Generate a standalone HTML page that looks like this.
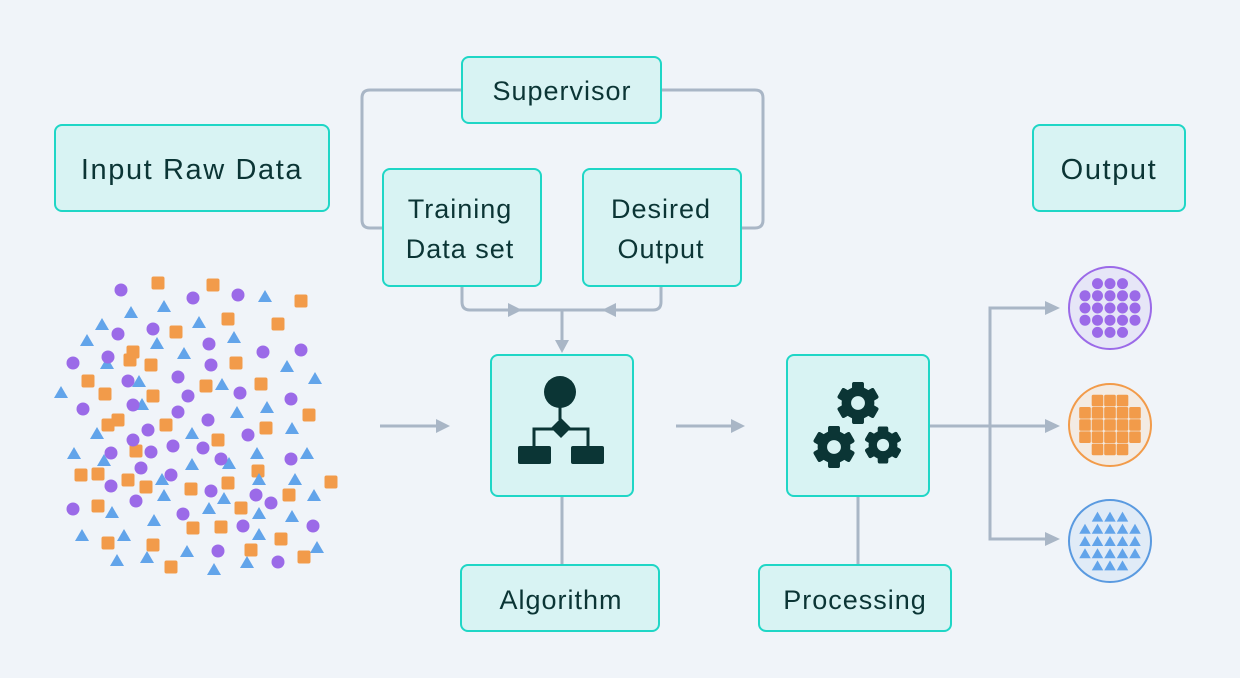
<!DOCTYPE html>
<html><head><meta charset="utf-8"><style>
html,body{margin:0;padding:0;background:#f0f4f9;}
svg{display:block}
text{font-family:"Liberation Sans",sans-serif;fill:#0b3535;}
</style></head><body>
<svg id="s" width="1240" height="678" viewBox="0 0 1240 678" xmlns="http://www.w3.org/2000/svg">
<rect width="1240" height="678" fill="#f0f4f9"/>
<g fill="none" stroke="#a9b6c6" stroke-width="3">
<path d="M462,90 H370 Q362,90 362,98 V220 Q362,228 370,228 H383"/>
<path d="M661,90 H755 Q763,90 763,98 V220 Q763,228 755,228 H741"/>
<path d="M462,286 V302 Q462,310 470,310 H653 Q661,310 661,302 V286"/>
<path d="M562,310 V340"/>
<path d="M380,426 H440"/>
<path d="M676,426 H735"/>
<path d="M562,496 V565"/>
<path d="M858,496 V565"/>
<path d="M929,426 H1048"/>
<path d="M1048,308 H990 V539 H1048"/>
</g>
<g fill="#a9b6c6">
<path d="M508,303 L522,310 L508,317 Z"/>
<path d="M616,303 L602,310 L616,317 Z"/>
<path d="M555,340 L569,340 L562,353 Z"/>
<path d="M436,419 L450,426 L436,433 Z"/>
<path d="M731,419 L745,426 L731,433 Z"/>
<path d="M1045,301 L1060,308 L1045,315 Z"/>
<path d="M1045,419 L1060,426 L1045,433 Z"/>
<path d="M1045,532 L1060,539 L1045,546 Z"/>
</g>
<g fill="#d8f3f3" stroke="#1fd6c6" stroke-width="2">
<rect x="55" y="125" width="274" height="86" rx="7"/>
<rect x="462" y="57" width="199" height="66" rx="7"/>
<rect x="383" y="169" width="158" height="117" rx="7"/>
<rect x="583" y="169" width="158" height="117" rx="7"/>
<rect x="1033" y="125" width="152" height="86" rx="7"/>
<rect x="491" y="355" width="142" height="141" rx="7"/>
<rect x="787" y="355" width="142" height="141" rx="7"/>
<rect x="461" y="565" width="198" height="66" rx="7"/>
<rect x="759" y="565" width="192" height="66" rx="7"/>
</g>
<g text-anchor="middle" font-size="27" letter-spacing="1">
<text x="192" y="179" font-size="29" letter-spacing="1.6">Input Raw Data</text>
<text x="562" y="100">Supervisor</text>
<text x="460" y="218">Training</text>
<text x="460" y="258">Data set</text>
<text x="661" y="218">Desired</text>
<text x="661" y="258">Output</text>
<text x="1109" y="179" font-size="29" letter-spacing="1.6">Output</text>
<text x="561" y="609">Algorithm</text>
<text x="855" y="609">Processing</text>
</g>
<g fill="#0b3535" stroke="#0b3535">
<circle cx="560" cy="392" r="16" stroke="none"/>
<path d="M560,406 V420" stroke-width="3"/>
<path d="M561,418 L571,428 L561,438 L551,428 Z" stroke="none"/>
<path d="M534,447 V429 H588 V447" fill="none" stroke-width="3"/>
<rect x="518" y="446" width="33" height="18" rx="2" stroke="none"/>
<rect x="571" y="446" width="33" height="18" rx="2" stroke="none"/>
</g>
<g id="gears"></g>
<circle cx="1110" cy="308" r="41" fill="#e6e6f7" stroke="#9b6ae8" stroke-width="2"/>
<circle cx="1110" cy="425" r="41" fill="#f3ebe3" stroke="#f29b4a" stroke-width="2"/>
<circle cx="1110" cy="541" r="41" fill="#e0ebf7" stroke="#5a9ae0" stroke-width="2"/>
<g id="out"></g>
<g id="sc"></g>
</svg>
<script>
var NS="http://www.w3.org/2000/svg";
function el(p,t,a){var e=document.createElementNS(NS,t);for(var k in a)e.setAttribute(k,a[k]);p.appendChild(e);return e;}
var sc=document.getElementById('sc');
var C=[[121,290],[193,298],[238,295],[118,334],[153,329],[209,344],[263,352],[301,350],[73,363],[108,357],[211,365],[128,381],[178,377],[240,393],[188,396],[291,399],[83,409],[133,405],[178,412],[208,420],[148,430],[248,435],[133,440],[111,453],[151,452],[173,446],[203,448],[221,459],[291,459],[141,468],[171,475],[111,486],[211,491],[256,495],[271,503],[136,501],[73,509],[183,514],[243,526],[313,526],[218,551],[278,562]];
var S=[[158,283],[213,285],[301,301],[228,319],[278,324],[176,332],[133,352],[130,360],[151,365],[236,363],[88,381],[206,386],[261,384],[105,394],[153,396],[309,415],[118,420],[108,425],[166,425],[266,428],[218,440],[136,451],[258,471],[81,475],[98,474],[128,480],[146,487],[191,489],[228,483],[331,482],[289,495],[98,506],[241,508],[193,528],[221,527],[281,539],[108,543],[153,545],[251,550],[304,557],[171,567]];
var T=[[131,312],[164,306],[265,296],[102,324],[199,322],[87,340],[157,343],[234,337],[184,353],[107,363],[287,366],[139,381],[222,384],[315,378],[61,392],[142,404],[237,412],[267,407],[97,433],[192,433],[292,428],[74,453],[104,460],[257,453],[307,453],[192,464],[229,463],[162,479],[259,479],[295,479],[164,495],[224,498],[314,495],[209,508],[112,512],[259,513],[292,516],[154,520],[82,535],[124,535],[259,534],[187,551],[317,547],[117,560],[147,557],[247,562],[214,569]];
function tri(p,x,y,w,h,f){el(p,'path',{d:'M'+x+','+(y-h/2)+' L'+(x+w/2)+','+(y+h/2)+' L'+(x-w/2)+','+(y+h/2)+' Z',fill:f});}
S.forEach(function(p){el(sc,'rect',{x:p[0]-6.5,y:p[1]-6.5,width:13,height:13,rx:2,fill:'#f29b4a'});});
T.forEach(function(p){tri(sc,p[0],p[1],14,12,'#62a4ea');});
C.forEach(function(p){el(sc,'circle',{cx:p[0],cy:p[1],r:6.5,fill:'#9b6ae8'});});
var out=document.getElementById('out');
var rows=[[3,-2],[5,-1],[5,0],[5,1],[3,2]];
function grid(cx,cy,fn){rows.forEach(function(r){var n=r[0];for(var i=0;i<n;i++){var x=cx+(i-(n-1)/2)*12.5,y=cy+r[1]*12.2;fn(x,y);}});}
grid(1110,308,function(x,y){el(out,'circle',{cx:x,cy:y,r:5.5,fill:'#9b6ae8'});});
grid(1110,425,function(x,y){el(out,'rect',{x:x-5.8,y:y-5.8,width:11.6,height:11.6,rx:1.5,fill:'#f29b4a'});});
grid(1110,541,function(x,y){tri(out,x,y,11.5,10,'#62a4ea');});
var g=document.getElementById('gears');
function gear(cx,cy,r){
 el(g,'circle',{cx:cx,cy:cy,r:r*0.78,fill:'#0b3535'});
 for(var i=0;i<6;i++){var a=i*60;el(g,'rect',{x:cx-r*0.28,y:cy-r,width:r*0.56,height:r*2,rx:2,fill:'#0b3535',transform:'rotate('+a+' '+cx+' '+cy+')'});}
 el(g,'circle',{cx:cx,cy:cy,r:r*0.33,fill:'#d8f3f3'});
}
gear(858,403,21);gear(834,447,21);gear(883,445,18.5);
</script>
</body></html>
